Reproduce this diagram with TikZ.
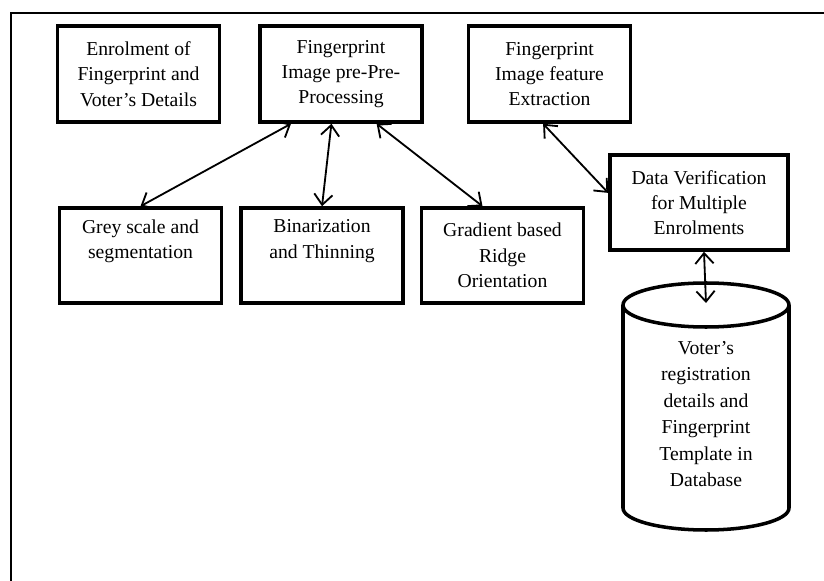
\documentclass[tikz,border=0pt]{standalone}
\usepackage{fontspec}
\setmainfont{Liberation Serif}
\usepackage{tikz}
\usetikzlibrary{positioning}
\usetikzlibrary{arrows.meta}
\tikzstyle{box} = [rectangle, draw, line width=2.5pt, minimum width=4.05cm, minimum height=2.4cm, inner sep=2pt, align=center, font=\fontsize{14}{18}\selectfont]
\tikzstyle{arrow} = [line width=1.3pt, <->, >={Straight Barb[length=7.5pt,width=13pt]}]
\tikzstyle{frame} = [line width=1.4pt]

\begin{document}
\begin{tikzpicture}
	\useasboundingbox (0,0) rectangle (20.6,-14.525);
	
	%Frame
	\draw[frame] (0.275,-14.525) -- (0.275,-0.325) -- (20.6,-0.325);
	
	%Top row
	\node [box] (enrol) at (3.4625,-1.85) {Enrolment of\\Fingerprint and\\Voter’s Details};
	\node [box, right=0.925cm of enrol] (pre) {Fingerprint\\Image pre-Pre-\\Processing};
	\node [box, right=1.075cm of pre] (feat) {Fingerprint\\Image feature\\Extraction};
	
	%Lower row
	\node [box, minimum height=2.375cm] (grey) at (3.5125,-6.3875) {Grey scale and\\segmentation\\\strut};
	\node [box, minimum height=2.375cm, right=0.4cm of grey] (bin) {Binarization\\and Thinning\\\strut};
	\node [box, minimum height=2.375cm, right=0.375cm of bin] (grad) {Gradient based\\Ridge\\Orientation};
	
	%Verification
	\node [box, minimum width=4.45cm, minimum height=2.375cm] (verif) at (17.475,-5.0625) {Data Verification\\for Multiple\\Enrolments};
	
	%Database
	\coordinate (dbtop) at (17.65,-7.625);
	\draw[line width=2.5pt] (dbtop) ellipse (2.075 and 0.55);
	\draw[line width=2.5pt] ([xshift=-2.075cm]dbtop) -- ++(0,-5.075) arc (180:360:2.075 and 0.55) -- ([xshift=2.075cm]dbtop);
	\node [align=center, font=\fontsize{14}{18.8}\selectfont] (db) at (17.65,-10.35) {Voter’s\\registration\\details and\\Fingerprint\\Template in\\Database};
	
	%Arrows
	\draw[arrow] ([xshift=-1.25cm]pre.south) -- (grey.north);
	\draw[arrow] ([xshift=-0.24cm]pre.south) -- (bin.north);
	\draw[arrow] ([xshift=0.89cm]pre.south) -- ([xshift=-0.5cm]grad.north);
	\draw[arrow] ([xshift=-0.16cm]feat.south) -- ([yshift=0.24cm]verif.west);
	\draw[arrow] ([xshift=0.125cm]verif.south) -- ([yshift=0.05cm]dbtop);
\end{tikzpicture}
\end{document}
